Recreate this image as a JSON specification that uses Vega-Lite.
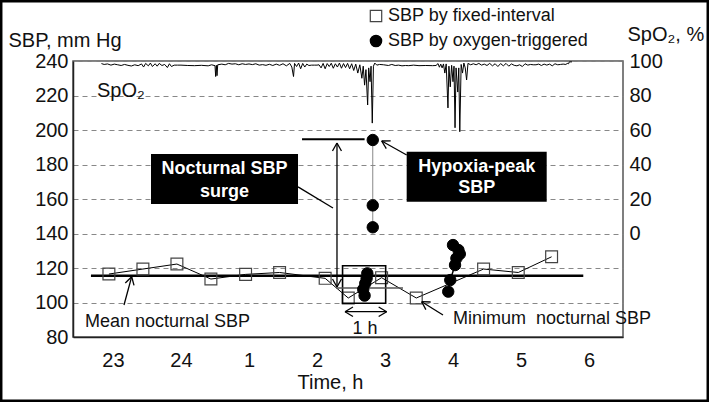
{
  "$schema": "https://vega.github.io/schema/vega-lite/v6.json",
  "width": 550,
  "height": 276,
  "autosize": {"type": "none"},
  "padding": {"left": 73, "top": 61, "right": 86, "bottom": 65},
  "background": "white",
  "config": {
    "font": "Liberation Sans",
    "view": {"stroke": "#555", "strokeWidth": 1.5},
    "axis": {"labelColor": "#111", "titleColor": "#111", "titleFontWeight": "normal", "labelFontSize": 20, "titleFontSize": 20, "ticks": false}
  },
  "datasets": {
    "fixed": [
      {"h": 22.94, "sbp": 116.5, "series": "SBP by fixed-interval"},
      {"h": 23.44, "sbp": 119.4, "series": "SBP by fixed-interval"},
      {"h": 23.94, "sbp": 122.3, "series": "SBP by fixed-interval"},
      {"h": 24.44, "sbp": 113.6, "series": "SBP by fixed-interval"},
      {"h": 24.95, "sbp": 116.3, "series": "SBP by fixed-interval"},
      {"h": 25.45, "sbp": 117.4, "series": "SBP by fixed-interval"},
      {"h": 26.12, "sbp": 114.0, "series": "SBP by fixed-interval"},
      {"h": 26.46, "sbp": 102.6, "series": "SBP by fixed-interval"},
      {"h": 26.95, "sbp": 114.4, "series": "SBP by fixed-interval"},
      {"h": 27.46, "sbp": 102.6, "series": "SBP by fixed-interval"},
      {"h": 28.45, "sbp": 119.4, "series": "SBP by fixed-interval"},
      {"h": 28.96, "sbp": 117.4, "series": "SBP by fixed-interval"},
      {"h": 29.45, "sbp": 126.5, "series": "SBP by fixed-interval"}
    ],
    "oxy": [
      {"h": 26.82, "sbp": 194.2, "g": "a", "series": "SBP by oxygen-triggered"},
      {"h": 26.82, "sbp": 156.3, "g": "a", "series": "SBP by oxygen-triggered"},
      {"h": 26.82, "sbp": 143.6, "g": "a", "series": "SBP by oxygen-triggered"},
      {"h": 26.74, "sbp": 116.9, "g": "b", "series": "SBP by oxygen-triggered"},
      {"h": 26.73, "sbp": 114.0, "g": "b", "series": "SBP by oxygen-triggered"},
      {"h": 26.71, "sbp": 111.1, "g": "b", "series": "SBP by oxygen-triggered"},
      {"h": 26.68, "sbp": 107.6, "g": "b", "series": "SBP by oxygen-triggered"},
      {"h": 26.70, "sbp": 104.0, "g": "b", "series": "SBP by oxygen-triggered"},
      {"h": 28.00, "sbp": 133.3, "g": "c", "series": "SBP by oxygen-triggered"},
      {"h": 28.08, "sbp": 130.4, "g": "c", "series": "SBP by oxygen-triggered"},
      {"h": 28.10, "sbp": 128.1, "g": "c", "series": "SBP by oxygen-triggered"},
      {"h": 28.05, "sbp": 125.6, "g": "c", "series": "SBP by oxygen-triggered"},
      {"h": 28.03, "sbp": 121.7, "g": "c", "series": "SBP by oxygen-triggered"},
      {"h": 27.96, "sbp": 113.0, "g": "c", "series": "SBP by oxygen-triggered"},
      {"h": 27.93, "sbp": 106.3, "g": "c", "series": "SBP by oxygen-triggered"}
    ],
    "spo2": [
      {"h": 22.83, "v": 98.5}, {"h": 22.87, "v": 98.0}, {"h": 22.92, "v": 98.3}, {"h": 22.97, "v": 97.6},
      {"h": 23.02, "v": 98.2}, {"h": 23.07, "v": 97.8}, {"h": 23.12, "v": 97.4}, {"h": 23.17, "v": 98.0},
      {"h": 23.22, "v": 97.5}, {"h": 23.27, "v": 97.1}, {"h": 23.32, "v": 97.8}, {"h": 23.37, "v": 97.3},
      {"h": 23.42, "v": 98.3}, {"h": 23.45, "v": 96.5}, {"h": 23.48, "v": 98.6}, {"h": 23.52, "v": 97.2},
      {"h": 23.55, "v": 98.8}, {"h": 23.58, "v": 96.8}, {"h": 23.62, "v": 98.4}, {"h": 23.65, "v": 97.0},
      {"h": 23.68, "v": 98.6}, {"h": 23.72, "v": 97.4}, {"h": 23.76, "v": 98.0}, {"h": 23.80, "v": 96.2},
      {"h": 23.83, "v": 98.4}, {"h": 23.86, "v": 96.8}, {"h": 23.90, "v": 97.6}, {"h": 23.95, "v": 97.6},
      {"h": 24.00, "v": 97.6}, {"h": 24.10, "v": 97.4}, {"h": 24.20, "v": 97.3}, {"h": 24.30, "v": 97.5},
      {"h": 24.40, "v": 97.2}, {"h": 24.45, "v": 97.8}, {"h": 24.50, "v": 97.3}, {"h": 24.51, "v": 91.0},
      {"h": 24.52, "v": 97.5}, {"h": 24.53, "v": 91.5}, {"h": 24.54, "v": 97.8}, {"h": 24.60, "v": 98.2},
      {"h": 24.65, "v": 97.8}, {"h": 24.70, "v": 98.6}, {"h": 24.75, "v": 98.2}, {"h": 24.80, "v": 98.4},
      {"h": 24.85, "v": 97.8}, {"h": 24.90, "v": 98.4}, {"h": 24.95, "v": 98.0}, {"h": 25.00, "v": 98.3},
      {"h": 25.05, "v": 97.9}, {"h": 25.10, "v": 98.4}, {"h": 25.15, "v": 97.6}, {"h": 25.20, "v": 97.9},
      {"h": 25.25, "v": 97.5}, {"h": 25.30, "v": 98.1}, {"h": 25.35, "v": 97.4}, {"h": 25.40, "v": 98.2},
      {"h": 25.45, "v": 97.5}, {"h": 25.50, "v": 98.4}, {"h": 25.55, "v": 97.2}, {"h": 25.60, "v": 98.6},
      {"h": 25.63, "v": 96.5}, {"h": 25.655, "v": 91.0}, {"h": 25.67, "v": 98.6}, {"h": 25.70, "v": 96.8},
      {"h": 25.73, "v": 98.8}, {"h": 25.76, "v": 95.5}, {"h": 25.79, "v": 98.6}, {"h": 25.82, "v": 96.5},
      {"h": 25.85, "v": 98.2}, {"h": 25.88, "v": 97.4}, {"h": 25.92, "v": 97.6}, {"h": 25.96, "v": 97.6},
      {"h": 26.00, "v": 97.6}, {"h": 26.03, "v": 97.8}, {"h": 26.06, "v": 96.0}, {"h": 26.09, "v": 98.6},
      {"h": 26.12, "v": 95.5}, {"h": 26.15, "v": 98.5}, {"h": 26.18, "v": 96.8}, {"h": 26.21, "v": 98.7},
      {"h": 26.24, "v": 95.8}, {"h": 26.27, "v": 98.4}, {"h": 26.30, "v": 96.5}, {"h": 26.33, "v": 98.8},
      {"h": 26.36, "v": 95.8}, {"h": 26.39, "v": 98.5}, {"h": 26.42, "v": 96.2}, {"h": 26.45, "v": 98.6},
      {"h": 26.48, "v": 95.5}, {"h": 26.51, "v": 98.4}, {"h": 26.54, "v": 94.5}, {"h": 26.57, "v": 98.2},
      {"h": 26.60, "v": 93.0}, {"h": 26.63, "v": 97.8}, {"h": 26.66, "v": 90.0}, {"h": 26.68, "v": 97.0},
      {"h": 26.70, "v": 86.0}, {"h": 26.72, "v": 95.0}, {"h": 26.745, "v": 74.5}, {"h": 26.76, "v": 96.0},
      {"h": 26.78, "v": 88.0}, {"h": 26.795, "v": 97.0}, {"h": 26.813, "v": 64.0}, {"h": 26.83, "v": 97.0},
      {"h": 26.85, "v": 98.8}, {"h": 26.88, "v": 97.6}, {"h": 26.92, "v": 98.0}, {"h": 26.98, "v": 97.8},
      {"h": 27.05, "v": 97.4}, {"h": 27.10, "v": 98.0}, {"h": 27.15, "v": 97.4}, {"h": 27.20, "v": 97.6},
      {"h": 27.25, "v": 97.2}, {"h": 27.30, "v": 97.4}, {"h": 27.35, "v": 97.3}, {"h": 27.42, "v": 97.6},
      {"h": 27.50, "v": 97.3}, {"h": 27.60, "v": 97.4}, {"h": 27.70, "v": 97.3}, {"h": 27.75, "v": 97.4},
      {"h": 27.78, "v": 98.5}, {"h": 27.80, "v": 96.4}, {"h": 27.82, "v": 98.2}, {"h": 27.84, "v": 96.0},
      {"h": 27.86, "v": 98.3}, {"h": 27.88, "v": 93.0}, {"h": 27.90, "v": 98.3}, {"h": 27.926, "v": 72.8},
      {"h": 27.94, "v": 97.0}, {"h": 27.96, "v": 85.0}, {"h": 27.98, "v": 97.5}, {"h": 28.00, "v": 88.0},
      {"h": 28.015, "v": 97.0}, {"h": 28.03, "v": 61.3}, {"h": 28.045, "v": 96.0}, {"h": 28.07, "v": 82.0},
      {"h": 28.085, "v": 96.0}, {"h": 28.10, "v": 59.0}, {"h": 28.12, "v": 98.0}, {"h": 28.14, "v": 93.0},
      {"h": 28.16, "v": 98.8}, {"h": 28.18, "v": 96.0}, {"h": 28.20, "v": 89.0}, {"h": 28.22, "v": 98.6},
      {"h": 28.26, "v": 97.8}, {"h": 28.30, "v": 98.4}, {"h": 28.34, "v": 97.8}, {"h": 28.38, "v": 98.6},
      {"h": 28.42, "v": 97.6}, {"h": 28.46, "v": 98.2}, {"h": 28.50, "v": 97.4}, {"h": 28.54, "v": 98.6},
      {"h": 28.58, "v": 97.2}, {"h": 28.62, "v": 98.4}, {"h": 28.66, "v": 96.8}, {"h": 28.70, "v": 98.5},
      {"h": 28.74, "v": 97.2}, {"h": 28.78, "v": 98.6}, {"h": 28.82, "v": 97.0}, {"h": 28.86, "v": 98.3},
      {"h": 28.90, "v": 97.5}, {"h": 28.94, "v": 97.2}, {"h": 28.98, "v": 97.8}, {"h": 29.02, "v": 96.8},
      {"h": 29.06, "v": 98.4}, {"h": 29.10, "v": 97.6}, {"h": 29.14, "v": 98.0}, {"h": 29.18, "v": 97.8},
      {"h": 29.22, "v": 97.8}, {"h": 29.26, "v": 98.2}, {"h": 29.30, "v": 97.4}, {"h": 29.34, "v": 98.2},
      {"h": 29.38, "v": 97.6}, {"h": 29.42, "v": 98.2}, {"h": 29.46, "v": 97.2}, {"h": 29.50, "v": 98.4},
      {"h": 29.54, "v": 97.8}, {"h": 29.58, "v": 98.0}, {"h": 29.62, "v": 98.2}, {"h": 29.66, "v": 98.0},
      {"h": 29.68, "v": 98.6}, {"h": 29.70, "v": 98.4}, {"h": 29.71, "v": 99.5}, {"h": 29.75, "v": 99.5}
    ],
    "seg": [
      {"h": 22.676, "h2": 29.916, "sbp": 115.5, "sbp2": 115.5, "k": "mean"},
      {"h": 25.78, "h2": 26.70, "sbp": 194.6, "sbp2": 194.6, "k": "medium"},
      {"h": 26.28, "h2": 27.265, "sbp": 108.4, "sbp2": 108.4, "k": "gray"},
      {"h": 23.162, "h2": 23.275, "sbp": 98.55, "sbp2": 114.96, "k": "thin"},
      {"h": 23.275, "h2": 23.181, "sbp": 114.96, "sbp2": 111.3, "k": "thin"},
      {"h": 23.275, "h2": 23.309, "sbp": 114.96, "sbp2": 109.9, "k": "thin"},
      {"h": 27.853, "h2": 27.54, "sbp": 92.75, "sbp2": 100.46, "k": "thin"},
      {"h": 27.54, "h2": 27.601, "sbp": 100.46, "sbp2": 95.88, "k": "thin"},
      {"h": 27.54, "h2": 27.672, "sbp": 100.46, "sbp2": 100.29, "k": "thin"},
      {"h": 27.319, "h2": 26.951, "sbp": 185.51, "sbp2": 193.62, "k": "thin"},
      {"h": 26.951, "h2": 27.019, "sbp": 193.62, "sbp2": 189.16, "k": "thin"},
      {"h": 26.951, "h2": 27.084, "sbp": 193.62, "sbp2": 193.68, "k": "thin"},
      {"h": 26.294, "h2": 26.294, "sbp": 192.46, "sbp2": 108.99, "k": "thin"},
      {"h": 26.294, "h2": 26.228, "sbp": 192.46, "sbp2": 187.83, "k": "thin"},
      {"h": 26.294, "h2": 26.36, "sbp": 192.46, "sbp2": 187.83, "k": "thin"},
      {"h": 26.294, "h2": 26.228, "sbp": 108.99, "sbp2": 113.62, "k": "thin"},
      {"h": 26.294, "h2": 26.36, "sbp": 108.99, "sbp2": 113.62, "k": "thin"},
      {"h": 25.721, "h2": 26.235, "sbp": 167.0, "sbp2": 154.8, "k": "thin"},
      {"h": 26.412, "h2": 27.025, "sbp": 94.67, "sbp2": 94.67, "k": "thin"},
      {"h": 26.412, "h2": 26.529, "sbp": 94.67, "sbp2": 97.39, "k": "thin"},
      {"h": 26.412, "h2": 26.529, "sbp": 94.67, "sbp2": 91.88, "k": "thin"},
      {"h": 27.025, "h2": 26.907, "sbp": 94.67, "sbp2": 97.39, "k": "thin"},
      {"h": 27.025, "h2": 26.907, "sbp": 94.67, "sbp2": 91.88, "k": "thin"}
    ],
    "box": [
      {"h": 21.338, "h2": 31.765, "sbp": 42.3, "sbp2": 275.4, "k": "frame"},
      {"h": 26.376, "h2": 27.01, "sbp": 99.54, "sbp2": 121.33, "k": "window"},
      {"h": 23.559, "h2": 25.721, "sbp": 157.1, "sbp2": 186.1, "k": "black"},
      {"h": 27.319, "h2": 29.378, "sbp": 158.4, "sbp2": 187.4, "k": "black"}
    ],
    "lab": [
      {"h": 24.64, "sbp": 177.2, "text": "Nocturnal SBP", "k": "white"},
      {"h": 24.64, "sbp": 164.2, "text": "surge", "k": "white"},
      {"h": 28.35, "sbp": 178.7, "text": "Hypoxia-peak", "k": "white"},
      {"h": 28.35, "sbp": 166.2, "text": "SBP", "k": "white"},
      {"h": 22.588, "sbp": 85.6, "text": "Mean nocturnal SBP", "k": "left"},
      {"h": 28.0, "sbp": 87.5, "text": "Minimum\u00a0\u00a0nocturnal SBP", "k": "left"},
      {"h": 26.706, "sbp": 81.6, "text": "1 h", "k": "center"},
      {"h": 22.765, "sbp": 219.3, "text": "SpO₂", "k": "spo2"}
    ]
  },
  "encoding": {
    "x": {"field": "h", "type": "quantitative", "scale": {"domain": [22.412, 30.5], "nice": false, "zero": false},
      "axis": {"values": [23, 24, 25, 26, 27, 28, 29, 30], "labelExpr": "datum.value > 24 ? format(datum.value - 24, 'd') : format(datum.value, 'd')", "title": "Time, h", "titleX": 257, "titleY": 51, "titleAlign": "center", "titleBaseline": "alphabetic", "titleAnchor": "start", "domainColor": "#222", "domainWidth": 1.5, "labelPadding": 13, "grid": false}}
  },
  "layer": [
    {
      "encoding": {
        "y": {"field": "sbp", "type": "quantitative", "scale": {"domain": [80, 240], "nice": false, "zero": false},
          "axis": {"values": [80, 100, 120, 140, 160, 180, 200, 220, 240], "title": "SBP, mm Hg", "titleAngle": 0, "titleAlign": "left", "titleBaseline": "alphabetic", "titleAnchor": "start", "titleX": -65, "titleY": -15, "labelPadding": 5, "grid": true, "gridDash": [5, 4], "gridColor": "#888", "gridWidth": 1, "domainColor": "#222", "domainWidth": 1.5}}
      },
      "layer": [
        {
          "data": {"name": "box"},
          "transform": [{"filter": "datum.k == 'frame'"}],
          "mark": {"type": "rect", "fill": null, "fillOpacity": 0, "stroke": "black", "strokeWidth": 5, "clip": false},
          "encoding": {"x2": {"field": "h2"}, "y2": {"field": "sbp2"}}
        },
        {
          "data": {"name": "seg"},
          "transform": [{"filter": "datum.k == 'mean'"}],
          "mark": {"type": "rule", "color": "black", "strokeWidth": 2.5},
          "encoding": {"x2": {"field": "h2"}, "y2": {"field": "sbp2"}}
        },
        {
          "data": {"name": "fixed"},
          "mark": {"type": "line", "color": "black", "strokeWidth": 1},
          "encoding": {}
        },
        {
          "data": {"name": "fixed"},
          "mark": {"type": "point", "filled": true, "size": 140, "strokeWidth": 1.2, "opacity": 1},
          "encoding": {
            "shape": {"field": "series", "type": "nominal", "scale": {"domain": ["SBP by fixed-interval", "SBP by oxygen-triggered"], "range": ["square", "circle"]},
              "legend": {"orient": "none", "legendX": 294, "legendY": -54, "title": null, "labelFontSize": 18, "labelColor": "#111", "labelLimit": 400, "symbolSize": 130, "rowPadding": 7, "labelOffset": 3, "symbolStrokeWidth": 1.2}},
            "fill": {"field": "series", "type": "nominal", "scale": {"domain": ["SBP by fixed-interval", "SBP by oxygen-triggered"], "range": ["transparent", "black"]},
              "legend": {"orient": "none", "legendX": 294, "legendY": -54, "title": null, "labelFontSize": 18, "labelColor": "#111", "labelLimit": 400, "symbolSize": 130, "rowPadding": 7, "labelOffset": 3, "symbolStrokeWidth": 1.2}},
            "stroke": {"field": "series", "type": "nominal", "scale": {"domain": ["SBP by fixed-interval", "SBP by oxygen-triggered"], "range": ["#444", "black"]},
              "legend": {"orient": "none", "legendX": 294, "legendY": -54, "title": null, "labelFontSize": 18, "labelColor": "#111", "labelLimit": 400, "symbolSize": 130, "rowPadding": 7, "labelOffset": 3, "symbolStrokeWidth": 1.2}}
          }
        },
        {
          "data": {"name": "box"},
          "transform": [{"filter": "datum.k == 'window'"}],
          "mark": {"type": "rect", "fill": null, "fillOpacity": 0, "stroke": "black", "strokeWidth": 1.6},
          "encoding": {"x2": {"field": "h2"}, "y2": {"field": "sbp2"}}
        },
        {
          "data": {"name": "seg"},
          "transform": [{"filter": "datum.k == 'gray'"}],
          "mark": {"type": "rule", "color": "#555", "strokeWidth": 1.5},
          "encoding": {"x2": {"field": "h2"}, "y2": {"field": "sbp2"}}
        },
        {
          "data": {"name": "seg"},
          "transform": [{"filter": "datum.k == 'thin'"}],
          "mark": {"type": "rule", "color": "black", "strokeWidth": 1.3},
          "encoding": {"x2": {"field": "h2"}, "y2": {"field": "sbp2"}}
        },
        {
          "data": {"name": "seg"},
          "transform": [{"filter": "datum.k == 'medium'"}],
          "mark": {"type": "rule", "color": "black", "strokeWidth": 2},
          "encoding": {"x2": {"field": "h2"}, "y2": {"field": "sbp2"}}
        },
        {
          "data": {"name": "oxy"},
          "transform": [{"filter": "datum.g == 'a'"}],
          "mark": {"type": "line", "color": "#888", "strokeWidth": 1},
          "encoding": {"order": {"field": "sbp"}}
        },
        {
          "data": {"name": "oxy"},
          "transform": [{"filter": "datum.g == 'c'"}],
          "mark": {"type": "line", "color": "black", "strokeWidth": 1.5},
          "encoding": {"order": {"field": "sbp"}}
        },
        {
          "data": {"name": "oxy"},
          "mark": {"type": "point", "filled": true, "size": 130, "strokeWidth": 1, "opacity": 1},
          "encoding": {
            "shape": {"field": "series", "type": "nominal", "scale": {"domain": ["SBP by fixed-interval", "SBP by oxygen-triggered"], "range": ["square", "circle"]},
              "legend": {"orient": "none", "legendX": 294, "legendY": -54, "title": null, "labelFontSize": 18, "labelColor": "#111", "labelLimit": 400, "symbolSize": 130, "rowPadding": 7, "labelOffset": 3, "symbolStrokeWidth": 1.2}},
            "fill": {"field": "series", "type": "nominal", "scale": {"domain": ["SBP by fixed-interval", "SBP by oxygen-triggered"], "range": ["transparent", "black"]},
              "legend": {"orient": "none", "legendX": 294, "legendY": -54, "title": null, "labelFontSize": 18, "labelColor": "#111", "labelLimit": 400, "symbolSize": 130, "rowPadding": 7, "labelOffset": 3, "symbolStrokeWidth": 1.2}},
            "stroke": {"field": "series", "type": "nominal", "scale": {"domain": ["SBP by fixed-interval", "SBP by oxygen-triggered"], "range": ["#444", "black"]},
              "legend": {"orient": "none", "legendX": 294, "legendY": -54, "title": null, "labelFontSize": 18, "labelColor": "#111", "labelLimit": 400, "symbolSize": 130, "rowPadding": 7, "labelOffset": 3, "symbolStrokeWidth": 1.2}}
          }
        },
        {
          "data": {"name": "box"},
          "transform": [{"filter": "datum.k == 'black'"}],
          "mark": {"type": "rect", "fill": "black"},
          "encoding": {"x2": {"field": "h2"}, "y2": {"field": "sbp2"}}
        },
        {
          "data": {"name": "lab"},
          "transform": [{"filter": "datum.k == 'white'"}],
          "mark": {"type": "text", "color": "white", "fontSize": 18, "fontWeight": "bold", "align": "center", "baseline": "middle"},
          "encoding": {"text": {"field": "text"}}
        },
        {
          "data": {"name": "lab"},
          "transform": [{"filter": "datum.k == 'left'"}],
          "mark": {"type": "text", "color": "#111", "fontSize": 18, "align": "left", "baseline": "alphabetic"},
          "encoding": {"text": {"field": "text"}}
        },
        {
          "data": {"name": "lab"},
          "transform": [{"filter": "datum.k == 'center'"}],
          "mark": {"type": "text", "color": "#111", "fontSize": 18, "align": "center", "baseline": "alphabetic"},
          "encoding": {"text": {"field": "text"}}
        },
        {
          "data": {"name": "lab"},
          "transform": [{"filter": "datum.k == 'spo2'"}],
          "mark": {"type": "text", "color": "#111", "fontSize": 20, "align": "left", "baseline": "alphabetic"},
          "encoding": {"text": {"field": "text"}}
        }
      ]
    },
    {
      "data": {"name": "spo2"},
      "mark": {"type": "line", "color": "black", "strokeWidth": 1},
      "encoding": {
        "y": {"field": "v", "type": "quantitative", "scale": {"domain": [-60, 100], "nice": false, "zero": false},
          "axis": {"orient": "right", "values": [0, 20, 40, 60, 80, 100], "title": "SpO₂, %", "titleAngle": 0, "titleAlign": "left", "titleBaseline": "alphabetic", "titleAnchor": "start", "titleX": 4, "titleY": -21, "domain": false, "labelPadding": 6, "grid": false}}
      }
    }
  ],
  "resolve": {"scale": {"y": "independent"}}
}
